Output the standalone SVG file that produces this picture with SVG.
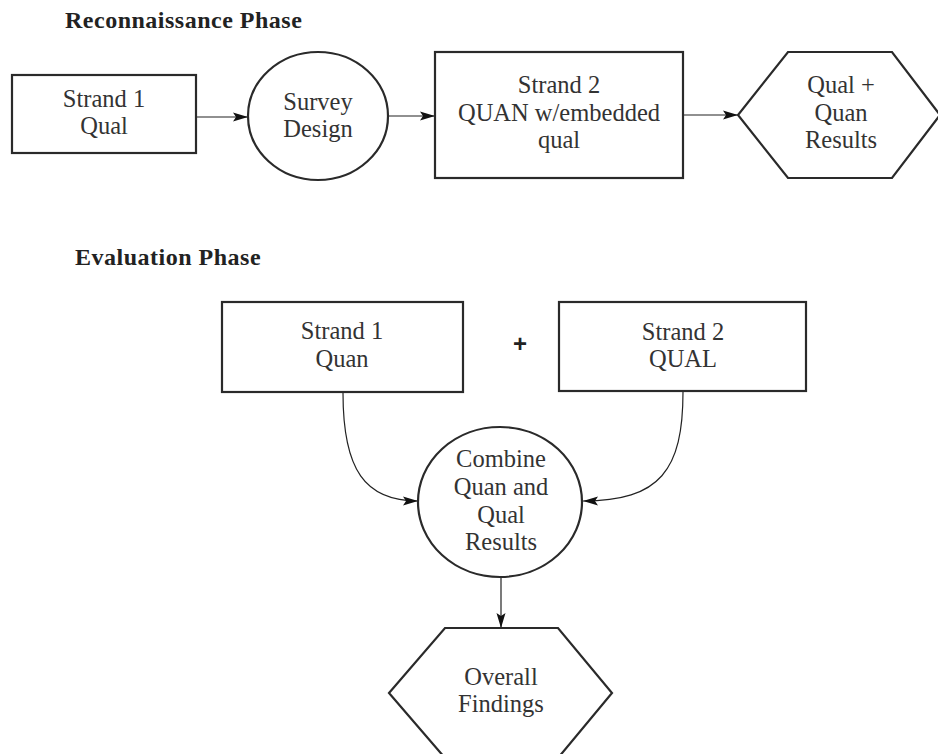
<svg xmlns="http://www.w3.org/2000/svg" width="938" height="754" viewBox="0 0 938 754">
  <style>
    .title { font-family: "Liberation Serif", "Times New Roman", serif; font-weight: bold; font-size: 24px; letter-spacing: 0.5px; fill: #222; }
    .label { font-family: "Liberation Serif", "Times New Roman", serif; font-size: 24.5px; fill: #333; text-anchor: middle; }
    .plus { font-family: "Liberation Sans", Arial, sans-serif; font-weight: bold; font-size: 24px; fill: #222; text-anchor: middle; }
    .shape { fill: #fff; stroke: #2a2a2a; stroke-width: 2.2; }
    .conn { fill: none; stroke: #222; stroke-width: 1.2; marker-end: url(#arrow); }
  </style>
  <defs>
    <marker id="arrow" markerUnits="userSpaceOnUse" markerWidth="16" markerHeight="10" refX="15" refY="5" orient="auto">
      <path d="M0,0.5 L15,5 L0,9.5 L3,5 Z" fill="#111"/>
    </marker>
  </defs>

  <rect width="938" height="754" fill="#fff"/>

  <text class="title" x="65" y="28">Reconnaissance Phase</text>
  <text class="title" x="75" y="265">Evaluation Phase</text>

  <!-- connectors -->
  <g id="connectors">
    <line class="conn" x1="196" y1="117" x2="248" y2="117"/>
    <line class="conn" x1="389" y1="116" x2="435" y2="116"/>
    <line class="conn" x1="683" y1="115" x2="738" y2="115"/>
    <path class="conn" d="M343,393 C343,470 365,501 418,501"/>
    <path class="conn" d="M683,392 C683,470 660,501 583,501"/>
    <line class="conn" x1="501" y1="578" x2="501" y2="628"/>
  </g>

  <!-- reconnaissance phase -->
  <g id="strand1-qual">
    <rect class="shape" x="12" y="75" width="184" height="78"/>
    <text class="label" x="104" y="107">Strand 1</text>
    <text class="label" x="104" y="134">Qual</text>
  </g>
  <g id="survey-design">
    <ellipse class="shape" cx="318" cy="116" rx="70" ry="64"/>
    <text class="label" x="318" y="110">Survey</text>
    <text class="label" x="318" y="137">Design</text>
  </g>
  <g id="strand2-quan">
    <rect class="shape" x="435" y="52" width="248" height="126"/>
    <text class="label" x="559" y="93">Strand 2</text>
    <text class="label" x="559" y="121">QUAN w/embedded</text>
    <text class="label" x="559" y="148">qual</text>
  </g>
  <g id="qual-quan-results">
    <polygon class="shape" points="788,52 892,52 940,115 892,178 788,178 738,115"/>
    <text class="label" x="841" y="93">Qual +</text>
    <text class="label" x="841" y="121">Quan</text>
    <text class="label" x="841" y="148">Results</text>
  </g>

  <!-- evaluation phase -->
  <g id="strand1-quan">
    <rect class="shape" x="222" y="302" width="241" height="90"/>
    <text class="label" x="342" y="339">Strand 1</text>
    <text class="label" x="342" y="367">Quan</text>
  </g>
  <g id="plus-sign">
    <text class="plus" x="520" y="352">+</text>
  </g>
  <g id="strand2-qual">
    <rect class="shape" x="559" y="302" width="247" height="89"/>
    <text class="label" x="683" y="340">Strand 2</text>
    <text class="label" x="683" y="367">QUAL</text>
  </g>
  <g id="combine-results">
    <ellipse class="shape" cx="500" cy="502" rx="82" ry="75"/>
    <text class="label" x="501" y="467">Combine</text>
    <text class="label" x="501" y="495">Quan and</text>
    <text class="label" x="501" y="523">Qual</text>
    <text class="label" x="501" y="550">Results</text>
  </g>
  <g id="overall-findings">
    <polygon class="shape" points="445,628 558,628 612,693 558,758 445,758 389,693"/>
    <text class="label" x="501" y="685">Overall</text>
    <text class="label" x="501" y="712">Findings</text>
  </g>
</svg>
